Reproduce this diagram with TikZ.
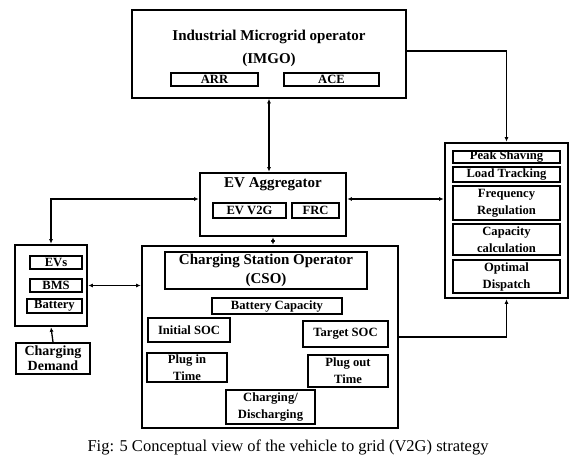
\documentclass[tikz,border=0pt]{standalone}
\usepackage{fontspec}
\setmainfont{Liberation Serif}
\usetikzlibrary{arrows.meta}

\begin{document}
\begin{tikzpicture}[x=1pt,y=-1pt,
  small/.style={draw,line width=1.2pt,inner sep=0pt,align=center,
    font=\bfseries\fontsize{12.6}{17}\selectfont},
  big/.style={draw,line width=2.6pt,inner sep=0pt},
  head/.style={align=center,font=\bfseries\fontsize{15}{23}\selectfont},
  link/.style={line width=1.3pt,{Latex[length=4.5pt,width=4pt]}-{Latex[length=4.5pt,width=4pt]}},
  to/.style={line width=1.3pt,-{Latex[length=4.5pt,width=4pt]}}]
  \useasboundingbox (0,0) rectangle (576,457);

  % operator on top
  \node[draw,line width=1.6pt,minimum width=274,minimum height=88] (imgo) at (269,54) {};
  \node[head] (imgot) at (269,48) {Industrial Microgrid operator\\(IMGO)};
  \node[small,minimum width=87,minimum height=13] (arr) at (214.5,79.5) {ARR};
  \node[small,line width=1.8pt,minimum width=95,minimum height=13] (ace) at (331.5,79.5) {ACE};

  % aggregator
  \node[big,minimum width=146,minimum height=63] (agg) at (273,204.5) {};
  \node[head] (aggt) at (273,184) {EV Aggregator};
  \node[small,minimum width=73,minimum height=15] (v2g) at (249.5,210.5) {EV V2G};
  \node[small,minimum width=47,minimum height=15] (frc) at (315.5,210.5) {FRC};

  % vehicles
  \node[big,minimum width=72,minimum height=81] (ev) at (51,285.5) {};
  \node[small,minimum width=52,minimum height=13] (evs) at (56,262.5) {EVs};
  \node[small,minimum width=52,minimum height=13] (bms) at (56,285.5) {BMS};
  \node[small,minimum width=55,minimum height=14] (bat) at (54.5,306) {Battery};
  \node[small,line width=2pt,minimum width=74,minimum height=31,
    font=\bfseries\fontsize{14}{15}\selectfont] (dem) at (53,358.5) {Charging\\Demand};

  % charging station
  \node[big,minimum width=256,minimum height=182] (cso) at (270,337) {};
  \node[small,head,minimum width=202,minimum height=37,
    font=\bfseries\fontsize{15}{19}\selectfont] (csot) at (266,270.5)
    {Charging Station Operator\\(CSO)};
  \node[small,minimum width=130,minimum height=16] (cap) at (277,306) {Battery Capacity};
  \node[small,minimum width=82,minimum height=24] (isoc) at (189,330) {Initial SOC};
  \node[small,minimum width=85,minimum height=26] (tsoc) at (345.5,334) {Target SOC};
  \node[small,minimum width=80,minimum height=29] (pin) at (187,367.5) {Plug in\\Time};
  \node[small,minimum width=80,minimum height=32] (pout) at (348,371) {Plug out\\Time};
  \node[small,minimum width=89,minimum height=34] (chd) at (270.5,407) {Charging/\\Discharging};

  % services
  \node[big,minimum width=123,minimum height=155] (srv) at (506.5,220.5) {};
  \node[small,minimum width=107,minimum height=12] (peak) at (506.5,157) {Peak Shaving};
  \node[small,minimum width=107,minimum height=15] (load) at (506.5,174.5) {Load Tracking};
  \node[small,minimum width=107,minimum height=34] (freq) at (506.5,203) {Frequency\\Regulation};
  \node[small,minimum width=107,minimum height=31] (ccal) at (506.5,239.5) {Capacity\\calculation};
  \node[small,minimum width=107,minimum height=33] (odis) at (506.5,276.5) {Optimal\\Dispatch};

  % links
  \draw[link] (imgo.south) -- (imgo.south |- agg.north);
  \draw[to] ([yshift=3pt]imgo.east) -| (srv.north);
  \draw[link] ([yshift=5.5pt]agg.west) -| (ev.north);
  \draw[link] ([yshift=5.5pt]agg.east) -- ([yshift=5.5pt]agg.east -| srv.west);
  \draw[link] (agg.south) -- (agg.south |- cso.north);
  \draw[link] (ev.east) -- (ev.east -| cso.west);
  \draw[to] (dem.north) -- (ev.south);
  \draw[to] (cso.east) -| (srv.south);

  \node (cap0) at (288,447) {\fontsize{16.5}{18}\selectfont Fig: 5 Conceptual view of the vehicle to grid (V2G) strategy};
\end{tikzpicture}
\end{document}
